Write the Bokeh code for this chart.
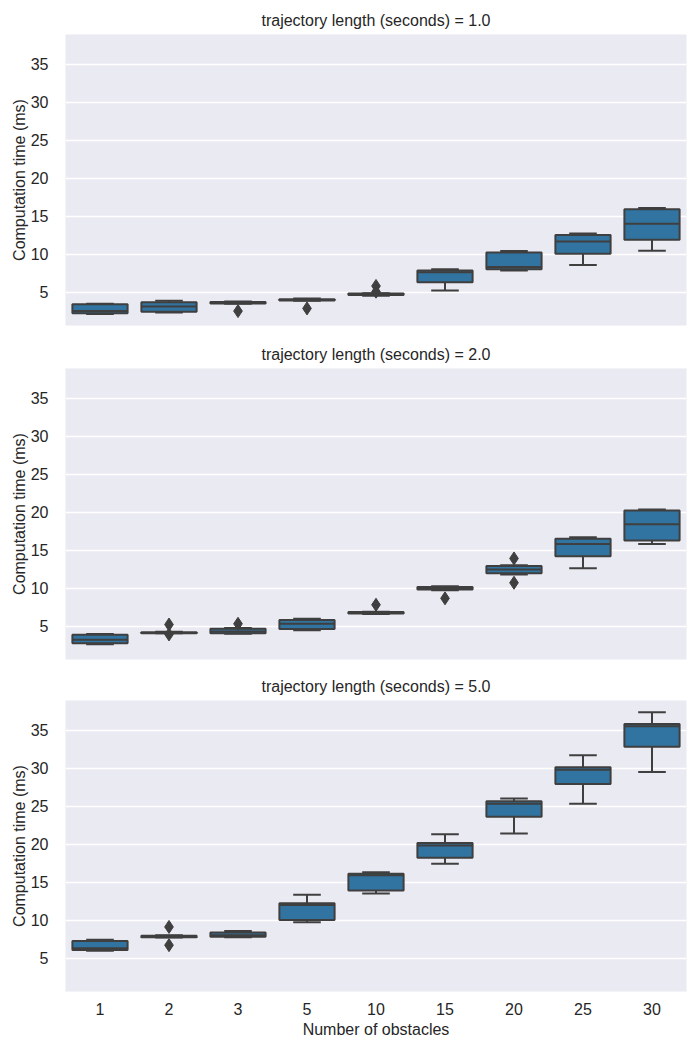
from bokeh.plotting import figure
from bokeh.layouts import column
from bokeh.models import ColumnDataSource, FixedTicker, Range1d, FactorRange
from bokeh.transform import dodge
from bokeh.embed import file_html
from bokeh.resources import INLINE

# ---------------- data ----------------
obstacles = ["1", "2", "3", "5", "10", "15", "20", "25", "30"]
traj_lengths = ["1.0", "2.0", "5.0"]
y_ticks = [5, 10, 15, 20, 25, 30, 35]

# trajectory length 1.0 s
low_1 = [2.1, 2.3, 3.45, 3.85, 4.5, 5.2, 7.85, 8.55, 10.45]
q1_1 = [2.2, 2.4, 3.5, 3.9, 4.6, 6.3, 8.0, 10.05, 11.9]
med_1 = [2.5, 3.1, 3.6, 3.95, 4.7, 7.6, 8.3, 11.65, 14.0]
q3_1 = [3.4, 3.65, 3.7, 4.05, 4.8, 7.85, 10.2, 12.5, 15.9]
high_1 = [3.45, 3.85, 3.75, 4.15, 4.85, 8.0, 10.4, 12.7, 16.05]
out_cat_1 = ["3", "5", "10", "10"]
out_val_1 = [2.5, 2.85, 5.8, 5.05]

# trajectory length 2.0 s
low_2 = [2.6, 4.05, 4.0, 4.45, 6.6, 9.7, 11.8, 12.6, 15.8]
q1_2 = [2.75, 4.05, 4.05, 4.6, 6.65, 9.8, 11.95, 14.2, 16.25]
med_2 = [3.2, 4.1, 4.3, 5.3, 6.75, 9.95, 12.45, 15.8, 18.4]
q3_2 = [3.85, 4.2, 4.65, 5.8, 6.85, 10.15, 12.9, 16.5, 20.2]
high_2 = [3.95, 4.25, 4.75, 5.95, 6.9, 10.25, 13.0, 16.7, 20.35]
out_cat_2 = ["2", "2", "3", "10", "15", "20", "20"]
out_val_2 = [5.2, 3.9, 5.3, 7.8, 8.65, 13.9, 10.7]

# trajectory length 5.0 s
low_3 = [5.95, 7.7, 7.75, 9.7, 13.5, 17.4, 21.4, 25.3, 29.5]
q1_3 = [6.05, 7.75, 7.8, 10.0, 13.9, 18.2, 23.6, 27.9, 32.8]
med_3 = [6.3, 7.85, 8.0, 12.0, 15.9, 19.8, 25.3, 29.8, 35.5]
q3_3 = [7.25, 7.95, 8.35, 12.2, 16.1, 20.15, 25.65, 30.1, 35.8]
high_3 = [7.4, 8.0, 8.55, 13.35, 16.3, 21.3, 26.0, 31.7, 37.35]
out_cat_3 = ["2", "2"]
out_val_3 = [9.1, 6.7]

# ---------------- style ----------------
BOX = "#3274A1"
EDGE = "#3F3F3F"
BG = "#EAEAF2"
TXT = "#262626"
FONT = "Liberation Sans"
LW = 2


def make_panel(tl, low, q1, med, q3, high, oc, ov, show_x, bt, bb):
    p = figure(
        x_range=FactorRange(factors=obstacles),
        y_range=Range1d(0.6, 38.9),
        frame_width=621, frame_height=291,
        min_border_left=65, min_border_right=14,
        min_border_top=bt, min_border_bottom=bb,
        output_backend="svg", toolbar_location=None,
        title="trajectory length (seconds) = " + tl,
    )
    p.background_fill_color = BG
    p.border_fill_color = "white"
    p.outline_line_color = None

    p.title.align = "center"
    p.title.text_font = FONT
    p.title.text_font_size = "16px"
    p.title.text_font_style = "normal"
    p.title.text_color = TXT
    p.title.standoff = 12

    p.xgrid.grid_line_color = None
    p.ygrid.grid_line_color = "white"
    p.ygrid.grid_line_width = 1.3

    ya = p.yaxis[0]
    ya.ticker = FixedTicker(ticks=y_ticks)
    ya.axis_line_color = None
    ya.major_tick_line_color = None
    ya.minor_tick_line_color = None
    ya.major_label_standoff = 11
    ya.major_label_text_font = FONT
    ya.major_label_text_font_size = "16px"
    ya.major_label_text_color = TXT
    ya.axis_label = "Computation time (ms)"
    ya.axis_label_text_font = FONT
    ya.axis_label_text_font_size = "16px"
    ya.axis_label_text_font_style = "normal"
    ya.axis_label_text_color = TXT
    ya.axis_label_standoff = 0

    xa = p.xaxis[0]
    if show_x:
        xa.axis_line_color = None
        xa.major_tick_line_color = None
        xa.minor_tick_line_color = None
        xa.major_label_standoff = 5
        xa.major_label_text_font = FONT
        xa.major_label_text_font_size = "16px"
        xa.major_label_text_color = TXT
        xa.axis_label = "Number of obstacles"
        xa.axis_label_text_font = FONT
        xa.axis_label_text_font_size = "16px"
        xa.axis_label_text_font_style = "normal"
        xa.axis_label_text_color = TXT
        xa.axis_label_standoff = 3
    else:
        xa.visible = False

    src = ColumnDataSource(dict(cat=obstacles, low=low, q1=q1, med=med, q3=q3, high=high))
    xr = p.x_range
    # whiskers
    p.segment(x0="cat", y0="low", x1="cat", y1="q1", source=src, line_color=EDGE, line_width=LW)
    p.segment(x0="cat", y0="q3", x1="cat", y1="high", source=src, line_color=EDGE, line_width=LW)
    # caps
    p.segment(x0=dodge("cat", -0.2, range=xr), y0="low", x1=dodge("cat", 0.2, range=xr), y1="low",
              source=src, line_color=EDGE, line_width=LW)
    p.segment(x0=dodge("cat", -0.2, range=xr), y0="high", x1=dodge("cat", 0.2, range=xr), y1="high",
              source=src, line_color=EDGE, line_width=LW)
    # boxes
    p.vbar(x="cat", width=0.8, bottom="q1", top="q3", source=src,
           fill_color=BOX, line_color=EDGE, line_width=LW)
    # medians
    p.segment(x0=dodge("cat", -0.4, range=xr), y0="med", x1=dodge("cat", 0.4, range=xr), y1="med",
              source=src, line_color=EDGE, line_width=LW)
    # outliers
    osrc = ColumnDataSource(dict(cat=oc, val=ov))
    p.scatter(x="cat", y="val", source=osrc, marker="diamond", size=13,
              fill_color=EDGE, line_color=EDGE)
    return p


p1 = make_panel(traj_lengths[0], low_1, q1_1, med_1, q3_1, high_1, out_cat_1, out_val_1, False, 34, 8)
p2 = make_panel(traj_lengths[1], low_2, q1_2, med_2, q3_2, high_2, out_cat_2, out_val_2, False, 35, 8)
p3 = make_panel(traj_lengths[2], low_3, q1_3, med_3, q3_3, high_3, out_cat_3, out_val_3, True, 33, 52)

layout = column(p1, p2, p3)
open("out.html", "w").write(file_html(layout, INLINE, title="Computation time"))
